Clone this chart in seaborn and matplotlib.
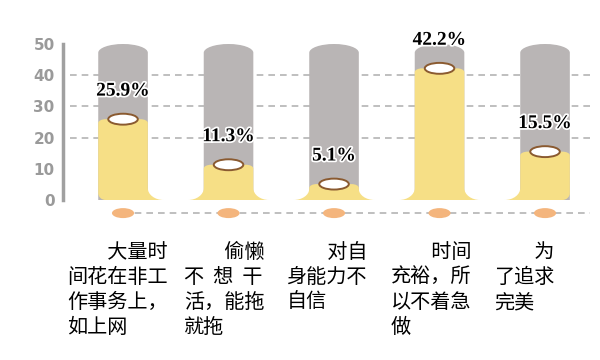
import numpy as np
import pandas as pd
import matplotlib
matplotlib.use("Agg")
import matplotlib.pyplot as plt
import seaborn as sns
from matplotlib.path import Path
from matplotlib.patches import PathPatch, Ellipse
import matplotlib.patheffects as pe

# ---------------- data ----------------
categories = [
    "　　大量时\n间花在非工\n作事务上，\n如上网",
    "　　偷懒\n不  想  干\n活，能拖\n就拖",
    "　　对自\n身能力不\n自信",
    "　　时间\n充裕，所\n以不着急\n做",
    "　　为\n了追求\n完美",
]
values = [25.9, 11.3, 5.1, 42.2, 15.5]
value_labels = ["25.9%", "11.3%", "5.1%", "42.2%", "15.5%"]
y_max = 50
y_ticks = [0, 10, 20, 30, 40, 50]
grid_values = [20, 30, 40]

# ---------------- style ----------------
GRAY = "#b9b5b5"
YELLOW = "#f6df86"
ORANGE = "#f4b57d"
RIM = "#8a5a30"
AXIS = "#a0a0a0"
GRID = "#b4b4b4"

sns.set_theme(style="white")
plt.rcParams["font.family"] = ["Noto Sans CJK SC", "DejaVu Sans"]

fig = plt.figure(figsize=(6, 3.6), dpi=100)
fig.patch.set_facecolor("white")
ax = fig.add_axes([63 / 600, 160 / 360, 537 / 600, 156 / 360])
ax.set_facecolor("none")

df = pd.DataFrame({"cat": categories, "value": values, "full": [y_max] * len(values)})
BW = 0.47
sns.barplot(data=df, x="cat", y="full", color=GRAY, width=BW, ax=ax,
            saturation=1, errorbar=None, order=categories)
sns.barplot(data=df, x="cat", y="value", color=YELLOW, width=BW, ax=ax,
            saturation=1, errorbar=None, order=categories)

K = 0.5523
n = len(values)
patches = list(ax.patches)
gray_patches = patches[:n]
yellow_patches = patches[n:2 * n]


def gray_path(x0, w, top, ry=2.8):
    x1 = x0 + w
    xc = x0 + w / 2
    rx = w / 2
    verts = [(x0, 0), (x0, top - ry),
             (x0, top - ry + K * ry), (xc - K * rx, top), (xc, top),
             (xc + K * rx, top), (x1, top - ry + K * ry), (x1, top - ry),
             (x1, 0), (x0, 0)]
    codes = [Path.MOVETO, Path.LINETO,
             Path.CURVE4, Path.CURVE4, Path.CURVE4,
             Path.CURVE4, Path.CURVE4, Path.CURVE4,
             Path.LINETO, Path.CLOSEPOLY]
    return Path(verts, codes)


def yellow_path(x0, w, v, flare_left, flare_right):
    x1 = x0 + w
    fx, fy = 0.15, min(3.8, 0.7 * v)
    cx, cy = 0.07, 2.2
    tx, ty = 0.07, 1.2
    verts, codes = [], []
    if flare_left:
        verts.append((x0 - fx, 0))
    else:
        verts.append((x0 + cx, 0))
    codes.append(Path.MOVETO)
    if flare_right:
        verts += [(x1 + fx, 0), (x1 + fx - K * fx, 0), (x1, fy - K * fy), (x1, fy)]
    else:
        verts += [(x1 - cx, 0), (x1 - cx + K * cx, 0), (x1, cy - K * cy), (x1, cy)]
    codes += [Path.LINETO, Path.CURVE4, Path.CURVE4, Path.CURVE4]
    verts += [(x1, v - ty), (x1, v - ty + K * ty), (x1 - tx + K * tx, v), (x1 - tx, v)]
    codes += [Path.LINETO, Path.CURVE4, Path.CURVE4, Path.CURVE4]
    verts += [(x0 + tx, v), (x0 + tx - K * tx, v), (x0, v - ty + K * ty), (x0, v - ty)]
    codes += [Path.LINETO, Path.CURVE4, Path.CURVE4, Path.CURVE4]
    if flare_left:
        verts += [(x0, fy), (x0, fy - K * fy), (x0 - fx + K * fx, 0), (x0 - fx, 0)]
    else:
        verts += [(x0, cy), (x0, cy - K * cy), (x0 + cx - K * cx, 0), (x0 + cx, 0)]
    codes += [Path.LINETO, Path.CURVE4, Path.CURVE4, Path.CURVE4]
    verts.append(verts[0])
    codes.append(Path.CLOSEPOLY)
    return Path(verts, codes)


for i, p in enumerate(gray_patches):
    x0, w, h = p.get_x(), p.get_width(), p.get_height()
    p.remove()
    ax.add_patch(PathPatch(gray_path(x0, w, h), facecolor=GRAY, edgecolor="none", zorder=2))

for i, p in enumerate(yellow_patches):
    x0, w, h = p.get_x(), p.get_width(), p.get_height()
    p.remove()
    ax.add_patch(PathPatch(yellow_path(x0, w, h, i > 0, i < n - 1),
                           facecolor=YELLOW, edgecolor="none", zorder=3, clip_on=False))
    ax.add_patch(Ellipse((i, h), 0.28, 3.5, facecolor="white", edgecolor=RIM,
                         linewidth=1.4, zorder=4))

# grid lines (behind bars)
ax.hlines(grid_values, xmin=-0.5, xmax=4.43, colors=GRID, linestyles=(0, (4, 3)),
          linewidth=1.2, zorder=1)

# bottom row: dashed line with orange dots
dot_y = -4.2
ax.plot([0, 4.43], [dot_y, dot_y], color=GRID, linestyle=(0, (4, 3)), linewidth=1.2,
        zorder=1, clip_on=False)
for i in range(n):
    ax.add_patch(Ellipse((i, dot_y), 0.21, 3.2, facecolor=ORANGE, edgecolor="none",
                         zorder=3, clip_on=False))

# value labels
for i, (v, lab) in enumerate(zip(values, value_labels)):
    ax.text(i, v + 9, lab, ha="center", va="center", fontsize=14, fontweight="bold",
            family="Liberation Serif", color="black", zorder=6, clip_on=False,
            path_effects=[pe.withStroke(linewidth=2.5, foreground="white")])

# category labels
label_x_offsets = [-0.53, -0.42, -0.45, -0.46, -0.48]
for i, cat in enumerate(categories):
    ax.text(i + label_x_offsets[i], -13.6, cat, ha="left", va="top", fontsize=14.5,
            linespacing=1.24, fontweight="medium",
            family=["Noto Sans CJK SC", "DejaVu Sans"], color="black", clip_on=False)

# axes styling
ax.set_xlim(-0.569, 4.521)
ax.set_ylim(0, y_max)
ax.set_yticks(y_ticks)
ax.set_yticklabels([str(t) for t in y_ticks])
ax.set_xticks([])
ax.set_xlabel("")
ax.set_ylabel("")
for s in ["top", "right", "bottom"]:
    ax.spines[s].set_visible(False)
ax.spines["left"].set_color(AXIS)
ax.spines["left"].set_linewidth(2.5)
ax.spines["left"].set_bounds(0, y_max)
ax.tick_params(axis="y", direction="in", length=5, width=2, color=AXIS, pad=6,
               labelsize=11, labelcolor="#9a9a9a")
for lbl in ax.get_yticklabels():
    lbl.set_fontweight("heavy")
    lbl.set_family("DejaVu Sans")
ax.grid(False)

fig.savefig("out.png", dpi=100)
